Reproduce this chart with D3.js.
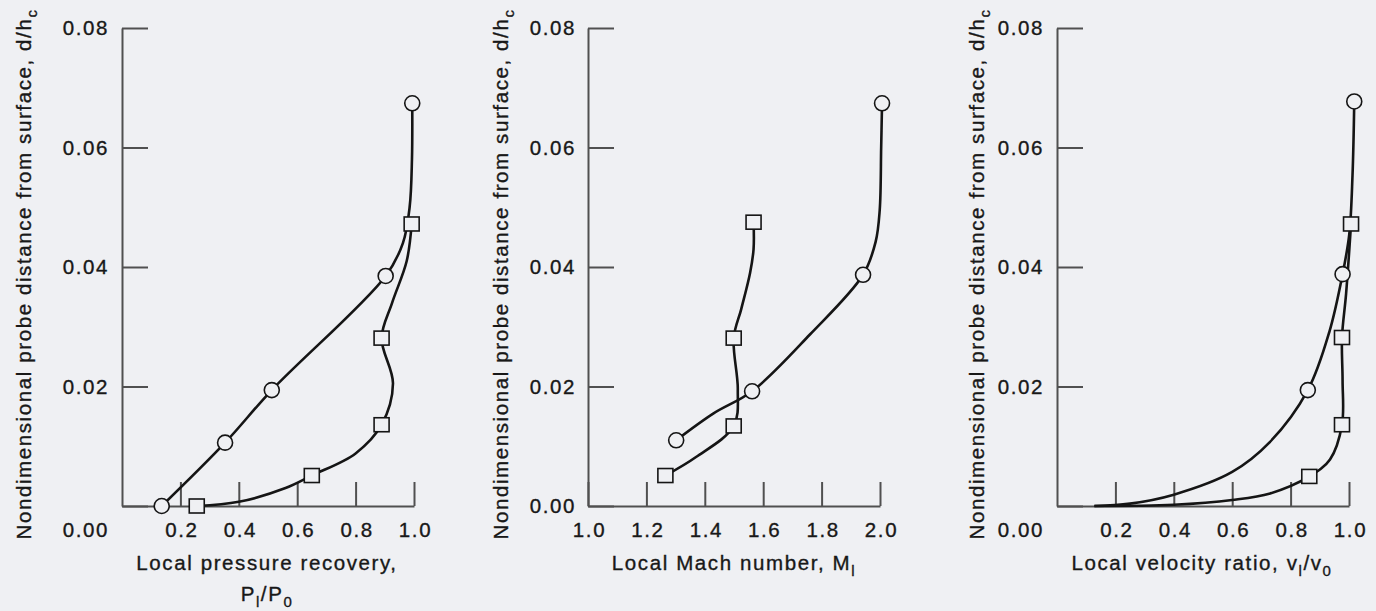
<!DOCTYPE html>
<html>
<head>
<meta charset="utf-8">
<script src="https://cdn.jsdelivr.net/npm/d3@7"></script>
<style>
  body { margin: 0; background: #eff0f3; }
  svg text { font-family: "Liberation Sans", Arial, sans-serif; font-size: 20.5px; fill: #181818; stroke: #181818; stroke-width: 0.35px; letter-spacing: 1.6px; }
</style>
</head>
<body>
<div id="chart"></div>
<script>
// chart size
const width = 1376
const height = 611

// shared y axis (d/h_c)
const yTicks = [0, 0.02, 0.04, 0.06, 0.08]

// panel 1 - local pressure recovery
const p1Ticks = [0.2, 0.4, 0.6, 0.8, 1.0]
const p1CircleX = [0.136, 0.353, 0.513, 0.903, 0.994]
const p1CircleY = [0.0, 0.0106, 0.0194, 0.0385, 0.0674]
const p1CircleCurveX = [0.136, 0.353, 0.513, 0.903, 0.962, 0.985, 0.993, 0.994]
const p1CircleCurveY = [0.0, 0.0106, 0.0194, 0.0385, 0.0440, 0.0500, 0.0580, 0.0674]
const p1SquareX = [0.256, 0.650, 0.889, 0.889, 0.992]
const p1SquareY = [0.0, 0.0051, 0.0136, 0.0281, 0.0472]
const p1SquareCurveX = [0.256, 0.40, 0.56, 0.650, 0.80, 0.889, 0.928, 0.889, 0.925, 0.975, 0.992]
const p1SquareCurveY = [0.0, 0.0007, 0.0030, 0.0051, 0.0088, 0.0136, 0.0205, 0.0281, 0.0340, 0.0410, 0.0472]

// panel 2 - local Mach number
const p2Ticks = [1.0, 1.2, 1.4, 1.6, 1.8, 2.0]
const p2CircleX = [1.302, 1.562, 1.942, 2.007]
const p2CircleY = [0.0110, 0.0192, 0.0387, 0.0674]
const p2CircleCurveX = [1.302, 1.43, 1.562, 1.76, 1.942, 1.985, 1.999, 2.004, 2.007]
const p2CircleCurveY = [0.0110, 0.0155, 0.0192, 0.0287, 0.0387, 0.0442, 0.0495, 0.0600, 0.0674]
const p2SquareX = [1.265, 1.499, 1.499, 1.567]
const p2SquareY = [0.0051, 0.0134, 0.0281, 0.0475]
const p2SquareCurveX = [1.265, 1.37, 1.499, 1.513, 1.499, 1.525, 1.555, 1.567, 1.567]
const p2SquareCurveY = [0.0051, 0.0082, 0.0134, 0.0195, 0.0281, 0.0330, 0.0390, 0.0430, 0.0475]

// panel 3 - local velocity ratio
const p3Ticks = [0.2, 0.4, 0.6, 0.8, 1.0]
const p3CircleX = [0.859, 0.978, 1.018]
const p3CircleY = [0.0194, 0.0388, 0.0677]
const p3CircleCurveX = [0.128, 0.25, 0.40, 0.60, 0.727, 0.859, 0.933, 0.978, 1.001, 1.012, 1.018]
const p3CircleCurveY = [0.0, 0.0004, 0.0019, 0.0057, 0.0106, 0.0194, 0.0292, 0.0388, 0.0455, 0.0553, 0.0677]
const p3SquareX = [0.864, 0.976, 0.976, 1.007]
const p3SquareY = [0.00495, 0.0136, 0.0282, 0.0472]
const p3SquareCurveX = [0.128, 0.40, 0.60, 0.73, 0.864, 0.935, 0.976, 0.978, 0.976, 0.99, 1.007]
const p3SquareCurveY = [0.0, 0.0002, 0.0010, 0.0021, 0.00495, 0.0078, 0.0136, 0.0210, 0.0282, 0.0355, 0.0472]

const zip = (xs, ys) => xs.map((x, i) => [x, ys[i]])

// layout of the three panels
const panels = [
  { left: 122, right: 414, domain: [0, 1], ticks: p1Ticks, zeroShift: 24, yLabelX: 31, tickPad: 13,
    circles: zip(p1CircleX, p1CircleY), circleCurve: zip(p1CircleCurveX, p1CircleCurveY),
    squares: zip(p1SquareX, p1SquareY), squareCurve: zip(p1SquareCurveX, p1SquareCurveY),
    xLabel: [[["Local pressure recovery,", ""]], [["P", ""], ["l", "sub"], ["/P", ""], ["0", "sub"]]], xLabelX: 267 },
  { left: 588, right: 880, domain: [1, 2], ticks: p2Ticks, zeroShift: 0, yLabelX: 508, tickPad: 12,
    circles: zip(p2CircleX, p2CircleY), circleCurve: zip(p2CircleCurveX, p2CircleCurveY),
    squares: zip(p2SquareX, p2SquareY), squareCurve: zip(p2SquareCurveX, p2SquareCurveY),
    xLabel: [[["Local Mach number, M", ""], ["l", "sub"]]], xLabelX: 734 },
  { left: 1057, right: 1349, domain: [0, 1], ticks: p3Ticks, zeroShift: 24, yLabelX: 984, tickPad: 13,
    circles: zip(p3CircleX, p3CircleY), circleCurve: zip(p3CircleCurveX, p3CircleCurveY),
    squares: zip(p3SquareX, p3SquareY), squareCurve: zip(p3SquareCurveX, p3SquareCurveY),
    xLabel: [[["Local velocity ratio, v", ""], ["l", "sub"], ["/v", ""], ["0", "sub"]]], xLabelX: 1202 }
]

const ink = "#151515"
const axisInk = "#505050"
const bg = "#eff0f3"

const chart = d3.select('#chart')
  .append('svg')
  .attr('width', width)
  .attr('height', height)

chart.append('rect').attr('width', width).attr('height', height).attr('fill', bg)

const yScale = d3.scaleLinear().domain([0, 0.08]).range([506, 28])

// writes text parts with subscripts into a text element
const writeParts = function (textEl, parts) {
  parts.forEach(function (p) {
    const span = textEl.append('tspan').text(p[0])
    if (p[1] === 'sub') {
      span.attr('font-size', 15).attr('dy', 6)
    } else {
      span.attr('dy', textEl.selectAll('tspan').size() > 1 ? -6 : 0)
    }
  })
}

const drawPanel = function (p) {
  const xScale = d3.scaleLinear().domain(p.domain).range([p.left, p.right])
  const g = chart.append('g')

  // y axis, ticks point inward
  const yAxis = d3.axisLeft(yScale)
    .tickValues(yTicks)
    .tickSize(-26)
    .tickSizeOuter(0)
    .tickPadding(p.tickPad)
    .tickFormat(d3.format('.2f'))
  const ya = g.append('g')
    .attr('transform', 'translate(' + p.left + ',0)')
    .call(yAxis)
  ya.selectAll('text').filter(d => d === 0).attr('dy', (0.32 * 20.5 + p.zeroShift) + 'px')

  // x axis, ticks point up
  const xAxis = d3.axisBottom(xScale)
    .tickValues(p.ticks)
    .tickSize(-24)
    .tickSizeOuter(0)
    .tickPadding(16)
    .tickFormat(d3.format('.1f'))
  const xa = g.append('g')
    .attr('transform', 'translate(0,' + yScale(0) + ')')
    .call(xAxis)
  xa.selectAll('text').attr('dx', 1)

  g.selectAll('.domain, .tick line').attr('stroke', axisInk).attr('stroke-width', 2)
  g.selectAll('.tick text').attr('font-size', null).attr('font-family', null).attr('fill', null)

  // y label
  const yl = g.append('text')
    .attr('transform', 'translate(' + p.yLabelX + ',274) rotate(-90)')
    .attr('text-anchor', 'middle')
  writeParts(yl, [["Nondimensional probe distance from surface, d/h", ""], ["c", "sub"]])

  // x label lines
  p.xLabel.forEach(function (line, i) {
    const t = g.append('text')
      .attr('x', p.xLabelX)
      .attr('y', 570 + i * 31)
      .attr('text-anchor', 'middle')
    writeParts(t, line)
  })

  const line = d3.line()
    .x(d => xScale(d[0]))
    .y(d => yScale(d[1]))
    .curve(d3.curveCatmullRom.alpha(0.5))

  g.append('path').datum(p.circleCurve).attr('d', line)
    .attr('fill', 'none').attr('stroke', ink).attr('stroke-width', 2.6)
  g.append('path').datum(p.squareCurve).attr('d', line)
    .attr('fill', 'none').attr('stroke', ink).attr('stroke-width', 2.6)

  g.selectAll('.circ').data(p.circles).enter()
    .append('circle')
    .attr('class', 'circ')
    .attr('cx', d => xScale(d[0]))
    .attr('cy', d => yScale(d[1]))
    .attr('r', 7.5)
    .attr('fill', bg).attr('stroke', ink).attr('stroke-width', 1.6)

  g.selectAll('.sq').data(p.squares).enter()
    .append('rect')
    .attr('class', 'sq')
    .attr('x', d => xScale(d[0]) - 7.5)
    .attr('y', d => yScale(d[1]) - 7)
    .attr('width', 15)
    .attr('height', 14)
    .attr('fill', bg).attr('stroke', ink).attr('stroke-width', 1.6)
}

panels.forEach(drawPanel)
</script>
</body>
</html>
